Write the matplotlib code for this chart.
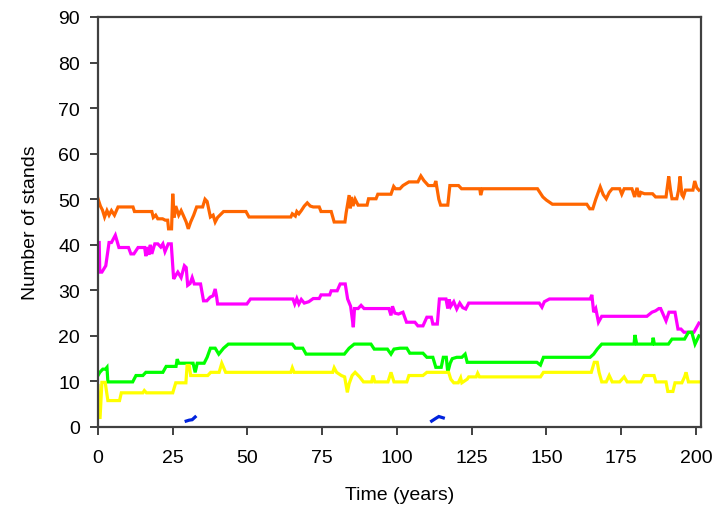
import numpy as np
import matplotlib.pyplot as plt

plt.rcParams.update({'font.family': ['Liberation Sans', 'DejaVu Sans'],
                     'font.size': 14})

# (time, number of stands)
orange_pts = [(0, 50.1), (0.8, 48.5), (1.5, 47.6), (2.2, 46.1), (3, 47.5), (3.7, 46.5),
              (4.5, 47.5), (5.5, 46.5), (6.7, 48.3), (11.7, 48.3), (12.2, 47.3), (18, 47.3),
              (18.5, 46), (19.3, 46.5), (20, 45.7), (21.6, 45.7), (22.5, 45.4), (23.3, 45.4),
              (23.6, 43.5), (24.6, 43.5), (25, 51.2), (25.5, 46), (26, 48.5), (27, 46.5),
              (27.8, 47.5), (28.5, 46.5), (29.5, 45), (30.2, 43.5), (31, 45), (32, 46.5),
              (33, 48.3), (35, 48.3), (35.8, 50.0), (36.5, 49.5), (37.6, 46.1), (38.5, 46.5),
              (39.2, 45.0), (40, 46), (42, 47.3), (49.5, 47.3), (50.5, 46.1), (64.5, 46.1),
              (65, 46.8), (66, 46.3), (66.5, 47.3), (67.2, 46.8), (68, 47.5), (69, 48.5),
              (70, 49.2), (71, 48.5), (72, 48.3), (74, 48.3), (74.6, 47.3), (78, 47.3),
              (79, 45), (82.6, 45), (83, 47), (84, 50.9), (84.4, 48), (84.8, 50.5),
              (85.3, 48.5), (86, 50), (87, 48.7), (90, 48.7), (90.5, 50.1), (93, 50.1),
              (93.6, 51.1), (98, 51.1), (98.9, 52.8), (99.5, 52.3), (101, 52.3), (102, 53),
              (104, 53.8), (107, 53.8), (108, 55.1), (109, 54.1), (110.5, 53.0), (112.5, 53.0),
              (113, 54.0), (114, 50), (114.6, 48.7), (117, 48.7), (117.7, 53.0), (120.6, 53.0),
              (121.6, 52.3), (127.7, 52.3), (128, 50.9), (128.6, 52.3), (147, 52.3),
              (148.8, 50.5), (150, 49.8), (152, 48.9), (163.5, 48.9), (164.5, 47.9),
              (165.5, 47.9), (166.5, 50), (168, 52.7), (169, 51), (170, 50.1), (171, 51.5),
              (172, 52.3), (174.5, 52.3), (175.2, 51.1), (176, 52.3), (178.6, 52.3),
              (179.5, 50.5), (180.3, 52.5), (181, 50.5), (181.6, 51.5), (182.8, 51.2),
              (185.5, 51.2), (186.5, 50.5), (190, 50.5), (190.5, 53), (190.9, 55.0),
              (191.5, 52), (192, 50.1), (193.6, 50.1), (194.2, 52), (194.7, 55.0), (195.3, 51),
              (195.8, 50.5), (196.5, 52), (199, 52), (199.6, 54), (200.3, 52.5), (201, 52)]

magenta_pts = [(0, 40.5), (0.4, 40.5), (0.6, 34.0), (1.3, 34.0), (2.6, 35.4), (3.7, 40.5),
               (4.5, 40.5), (5.8, 42.1), (7, 39.4), (10.2, 39.4), (11, 38.0), (12, 38.0),
               (13.4, 39.4), (15.6, 39.4), (16, 37.5), (16.5, 39.5), (17, 37.8), (17.5, 40),
               (18, 38), (19, 40.2), (20, 40.2), (21, 39.5), (21.7, 40.2), (22.4, 38.5),
               (23.5, 40.2), (24.5, 40.2), (25.3, 32.5), (26.2, 33.5), (26.7, 34.0),
               (27.8, 32.8), (28.9, 35.4), (29.5, 35.0), (30, 31.1), (30.8, 31.5), (31.5, 32.8),
               (32.2, 31.4), (34.3, 31.4), (35.3, 27.7), (36.4, 27.7), (37.5, 28.5),
               (38.5, 28.8), (39.2, 30.3), (39.7, 28.5), (40, 27.0), (49.8, 27.0), (51, 28.1),
               (65.2, 28.1), (65.8, 27), (66.5, 28.2), (67.2, 27), (68, 28), (69, 27.2),
               (70.5, 27.5), (72, 28.2), (74, 28.2), (74.6, 29.0), (77.5, 29.0), (78, 29.9),
               (80, 29.9), (81, 31.4), (82.7, 31.4), (83.5, 28.1), (84.5, 26.5), (85, 24),
               (85.4, 21.9), (85.8, 26), (87, 26.0), (88, 26.7), (89, 26.0), (97.3, 26.0),
               (98, 24.5), (98.5, 26.5), (99.3, 25.0), (100.5, 24.8), (102, 25.2), (103.2, 23.0),
               (106, 23.0), (107, 22.2), (108.7, 22.2), (110, 24.1), (111.5, 24.1), (112, 22.6),
               (113.5, 22.6), (114.2, 28.1), (116.4, 28.1), (117, 26), (117.5, 28), (118, 26.5),
               (119, 27.5), (120, 25.9), (121, 27.2), (122, 26.2), (123, 25.9), (124, 27.2),
               (147.6, 27.2), (148.5, 26.3), (149.3, 27.5), (151, 28.1), (164.6, 28.1),
               (165.2, 29.0), (165.8, 25.2), (166.5, 26.0), (167.4, 23.0), (168.5, 24.3),
               (183.6, 24.3), (185.3, 25.2), (186.5, 25.5), (187.6, 26.0), (188.2, 26.0),
               (190, 23.3), (191, 25.2), (193, 25.2), (194, 21.5), (195, 21.5), (196, 20.8),
               (199.3, 20.8), (200.5, 22.2), (201, 22.8)]

green_pts = [(0, 11.3), (0.6, 12.0), (1.6, 12.7), (2.5, 12.7), (3.0, 13.1), (3.3, 9.9),
             (11.6, 9.9), (12.7, 11.3), (15, 11.3), (16, 12.0), (21.7, 12.0), (22.8, 13.3),
             (26.1, 13.3), (26.5, 14.9), (27, 14.0), (31.8, 14.0), (32.5, 12.0), (33.2, 14.0),
             (35.5, 14.0), (36.5, 15.3), (37.6, 17.3), (39.2, 17.3), (40.4, 16.0), (42, 17.3),
             (43.6, 18.2), (65, 18.2), (66, 17.3), (68.5, 17.3), (69.6, 16.0), (82.4, 16.0),
             (84, 17.3), (85.7, 18.2), (91.3, 18.2), (92.4, 17.1), (96.8, 17.1), (98, 16.0),
             (99, 17.1), (101, 17.3), (103.3, 17.3), (104.3, 16.2), (108.7, 16.2), (110, 15.3),
             (112, 15.3), (113, 13.1), (114.8, 13.1), (115.5, 15.3), (116.5, 15.3), (117, 12.0),
             (117.8, 14.0), (118.5, 15.0), (120, 15.3), (121.7, 15.3), (122.8, 16.0),
             (123.5, 14.2), (146.8, 14.2), (148, 13.6), (149, 15.3), (164.6, 15.3),
             (165.8, 16.0), (167, 17.1), (168.5, 18.2), (179.3, 18.2), (179.6, 20.2),
             (180.2, 18.2), (185.4, 18.2), (185.7, 19.6), (186.1, 18.2), (190.8, 18.2),
             (192, 19.3), (196.2, 19.3), (197.5, 20.8), (198.6, 20.8), (199.7, 18.2), (201, 20.0)]

yellow_pts = [(0, 9.1), (0.3, 2.1), (0.7, 2.1), (1.3, 9.8), (2.4, 9.8), (3.3, 5.8), (7.2, 5.8),
              (7.8, 7.5), (15, 7.5), (15.5, 8.0), (16.2, 7.5), (25, 7.5), (26, 9.7), (29.4, 9.7),
              (29.8, 13.5), (30.5, 13.5), (31, 11.3), (36.7, 11.3), (37.7, 12.0), (40.5, 12.0),
              (41.4, 14.0), (42.7, 12.0), (64.5, 12.0), (65, 13.0), (65.6, 12.0), (78.5, 12.0),
              (79, 13.0), (79.8, 12.0), (81.4, 11.3), (82.5, 11.0), (83.4, 7.6), (84, 9.5),
              (85, 11.3), (86, 12.0), (87.5, 11.0), (88.8, 9.9), (91.5, 9.9), (92, 11.3),
              (92.6, 9.9), (97, 9.9), (98, 12.0), (99, 9.9), (103.3, 9.9), (104, 11.3),
              (108.7, 11.3), (110, 12.0), (117.3, 12.0), (118, 10.5), (119, 9.7), (120.5, 9.7),
              (121.3, 10.8), (121.7, 9.7), (123.5, 10.5), (124, 11.0), (126.5, 11.0),
              (127, 11.8), (127.6, 11.0), (148, 11.0), (149, 12.0), (165, 12.0), (166, 14.2),
              (167, 14.2), (167.6, 12.0), (168.5, 9.9), (170, 9.9), (171, 11.3), (172, 9.9),
              (174.5, 9.9), (176, 11.0), (177, 9.9), (181.6, 9.9), (182.7, 11.3), (186, 11.3),
              (186.6, 9.9), (190, 9.9), (190.6, 7.8), (192.3, 7.8), (193, 9.7), (195.3, 9.7),
              (196.2, 11.0), (196.7, 12.0), (197.5, 9.9), (201.4, 9.9)]

blue_pts = [(29.5, 1.3), (30.5, 1.5), (31.5, 1.6), (32.5, 2.2), (np.nan, np.nan),
            (111.6, 1.3), (113, 1.9), (114, 2.3), (115.5, 2.0)]

series = [(orange_pts, '#FF6600'), (magenta_pts, '#FF00FF'), (green_pts, '#00FF00'),
          (yellow_pts, '#FFFF00'), (blue_pts, '#0022DD')]

xticks = np.arange(0, 201, 25)
yticks = np.arange(0, 91, 10)

fig = plt.figure(figsize=(7.28, 5.06), dpi=100)
ax = fig.add_axes([98/728, 1-428/506, 603/728, 410/506])

for pts, col in series:
  x, y = zip(*pts)
  ax.plot(x, y, color=col, lw=2.3, solid_joinstyle='miter')

ax.set_xlim(0, 201.7)
ax.set_ylim(0, 90)
ax.set_xticks(xticks)
ax.set_yticks(yticks)
for s in ax.spines.values():
  s.set_color('#404040')
  s.set_linewidth(1.6)
ax.tick_params(color='#404040', width=1.4, length=6, labelsize=14)
ax.tick_params(axis='x', pad=10)
ax.tick_params(axis='y', pad=7)
ax.set_xlabel('Time (years)', fontsize=14, labelpad=14)
ax.set_ylabel('Number of stands', fontsize=14, labelpad=14)

fig.savefig('out.png', dpi=100)
